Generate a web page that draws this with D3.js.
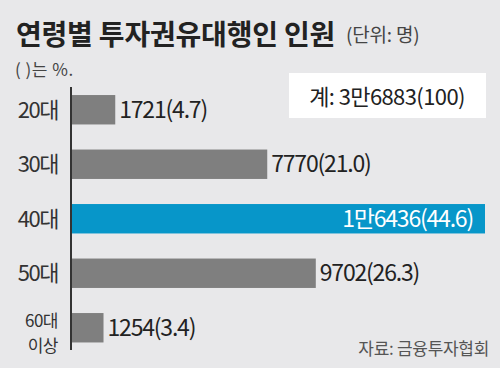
<!DOCTYPE html>
<html><head><meta charset="utf-8">
<script src="https://cdn.jsdelivr.net/npm/d3@7"></script>
<style>
html,body{margin:0;padding:0;background:#e8e8ea;}
svg{display:block;}
text{font-family:"Noto Sans CJK KR","Noto Sans",sans-serif;}
</style></head>
<body>
<div id="chart"></div>
<script>
const categories = ["20대","30대","40대","50대","60대 이상"];
const values = [1721, 7770, 16436, 9702, 1254];
const valueLabels = ["1721(4.7)","7770(21.0)","1만6436(44.6)","9702(26.3)","1254(3.4)"];
const shares = [4.7, 21.0, 44.6, 26.3, 3.4];
const highlight = "40대";
const totalLabel = "계: 3만6883(100)";
const title = "연령별 투자권유대행인 인원";
const unit = "(단위: 명)";
const note = "( )는 %.";
const source = "자료: 금융투자협회";

const W = 500, H = 368;
const svg = d3.select("#chart").append("svg").attr("width", W).attr("height", H);
svg.append("rect").attr("width", W).attr("height", H).attr("fill", "#e8e8ea");

const x0 = 72;
const x = d3.scaleLinear().domain([0, d3.max(values)]).range([x0, 485]);
const y = d3.scaleBand().domain(categories).range([82.5, 355]).paddingInner(0.46).paddingOuter(0.23);

// title
svg.append("text").attr("x", 16).attr("y", 45).attr("font-size", 28).attr("font-weight", 700)
  .attr("letter-spacing", -0.2).attr("fill", "#222").text(title);
svg.append("text").attr("x", 346).attr("y", 42).attr("font-size", 19).attr("fill", "#444")
  .attr("letter-spacing", -0.2).text(unit);
svg.append("text").attr("x", 15).attr("y", 76).attr("font-size", 17).attr("fill", "#444")
  .attr("letter-spacing", 0.5).text(note);

// total box
svg.append("rect").attr("x", 289).attr("y", 73).attr("width", 197).attr("height", 45).attr("fill", "#fff");
svg.append("text").attr("x", 387).attr("y", 105).attr("text-anchor", "middle").attr("font-size", 22)
  .attr("fill", "#222").attr("letter-spacing", -0.6).text(totalLabel);

// bars
svg.selectAll("rect.bar").data(categories).enter().append("rect").attr("class", "bar")
  .attr("x", x0).attr("y", d => y(d)).attr("height", y.bandwidth())
  .attr("width", (d, i) => x(values[i]) - x0)
  .attr("fill", d => d === highlight ? "#0796c9" : "#7f7f7f");

// axis line
svg.append("line").attr("x1", 71).attr("x2", 71).attr("y1", 87).attr("y2", 350)
  .attr("stroke", "#333").attr("stroke-width", 2);

// category labels
categories.forEach((c, i) => {
  const cy = y(c) + y.bandwidth() / 2;
  const parts = c.split(" ");
  if (parts.length === 1) {
    svg.append("text").attr("text-anchor", "end").attr("font-size", 22).attr("fill", "#333")
      .attr("letter-spacing", -1.5).attr("x", 58).attr("y", cy + 8).text(parts[0]);
  } else {
    svg.append("text").attr("text-anchor", "end").attr("font-size", 17).attr("fill", "#333")
      .attr("letter-spacing", -0.5).attr("x", 58).attr("y", cy - 1).text(parts[0]);
    svg.append("text").attr("text-anchor", "end").attr("font-size", 17).attr("fill", "#333")
      .attr("letter-spacing", -0.5).attr("x", 58).attr("y", cy + 24).text(parts[1]);
  }
});

// value labels
categories.forEach((c, i) => {
  const cy = y(c) + y.bandwidth() / 2;
  const inside = c === highlight;
  svg.append("text")
    .attr("x", inside ? x(values[i]) - 12 : x(values[i]) + 4)
    .attr("y", cy + 8)
    .attr("text-anchor", inside ? "end" : "start")
    .attr("font-size", 23).attr("letter-spacing", -1.2)
    .attr("fill", inside ? "#fff" : "#222")
    .text(valueLabels[i]);
});

// source
svg.append("text").attr("x", 489).attr("y", 355).attr("text-anchor", "end").attr("font-size", 17)
  .attr("fill", "#555").attr("letter-spacing", -0.3).text(source);
</script>
</body></html>
